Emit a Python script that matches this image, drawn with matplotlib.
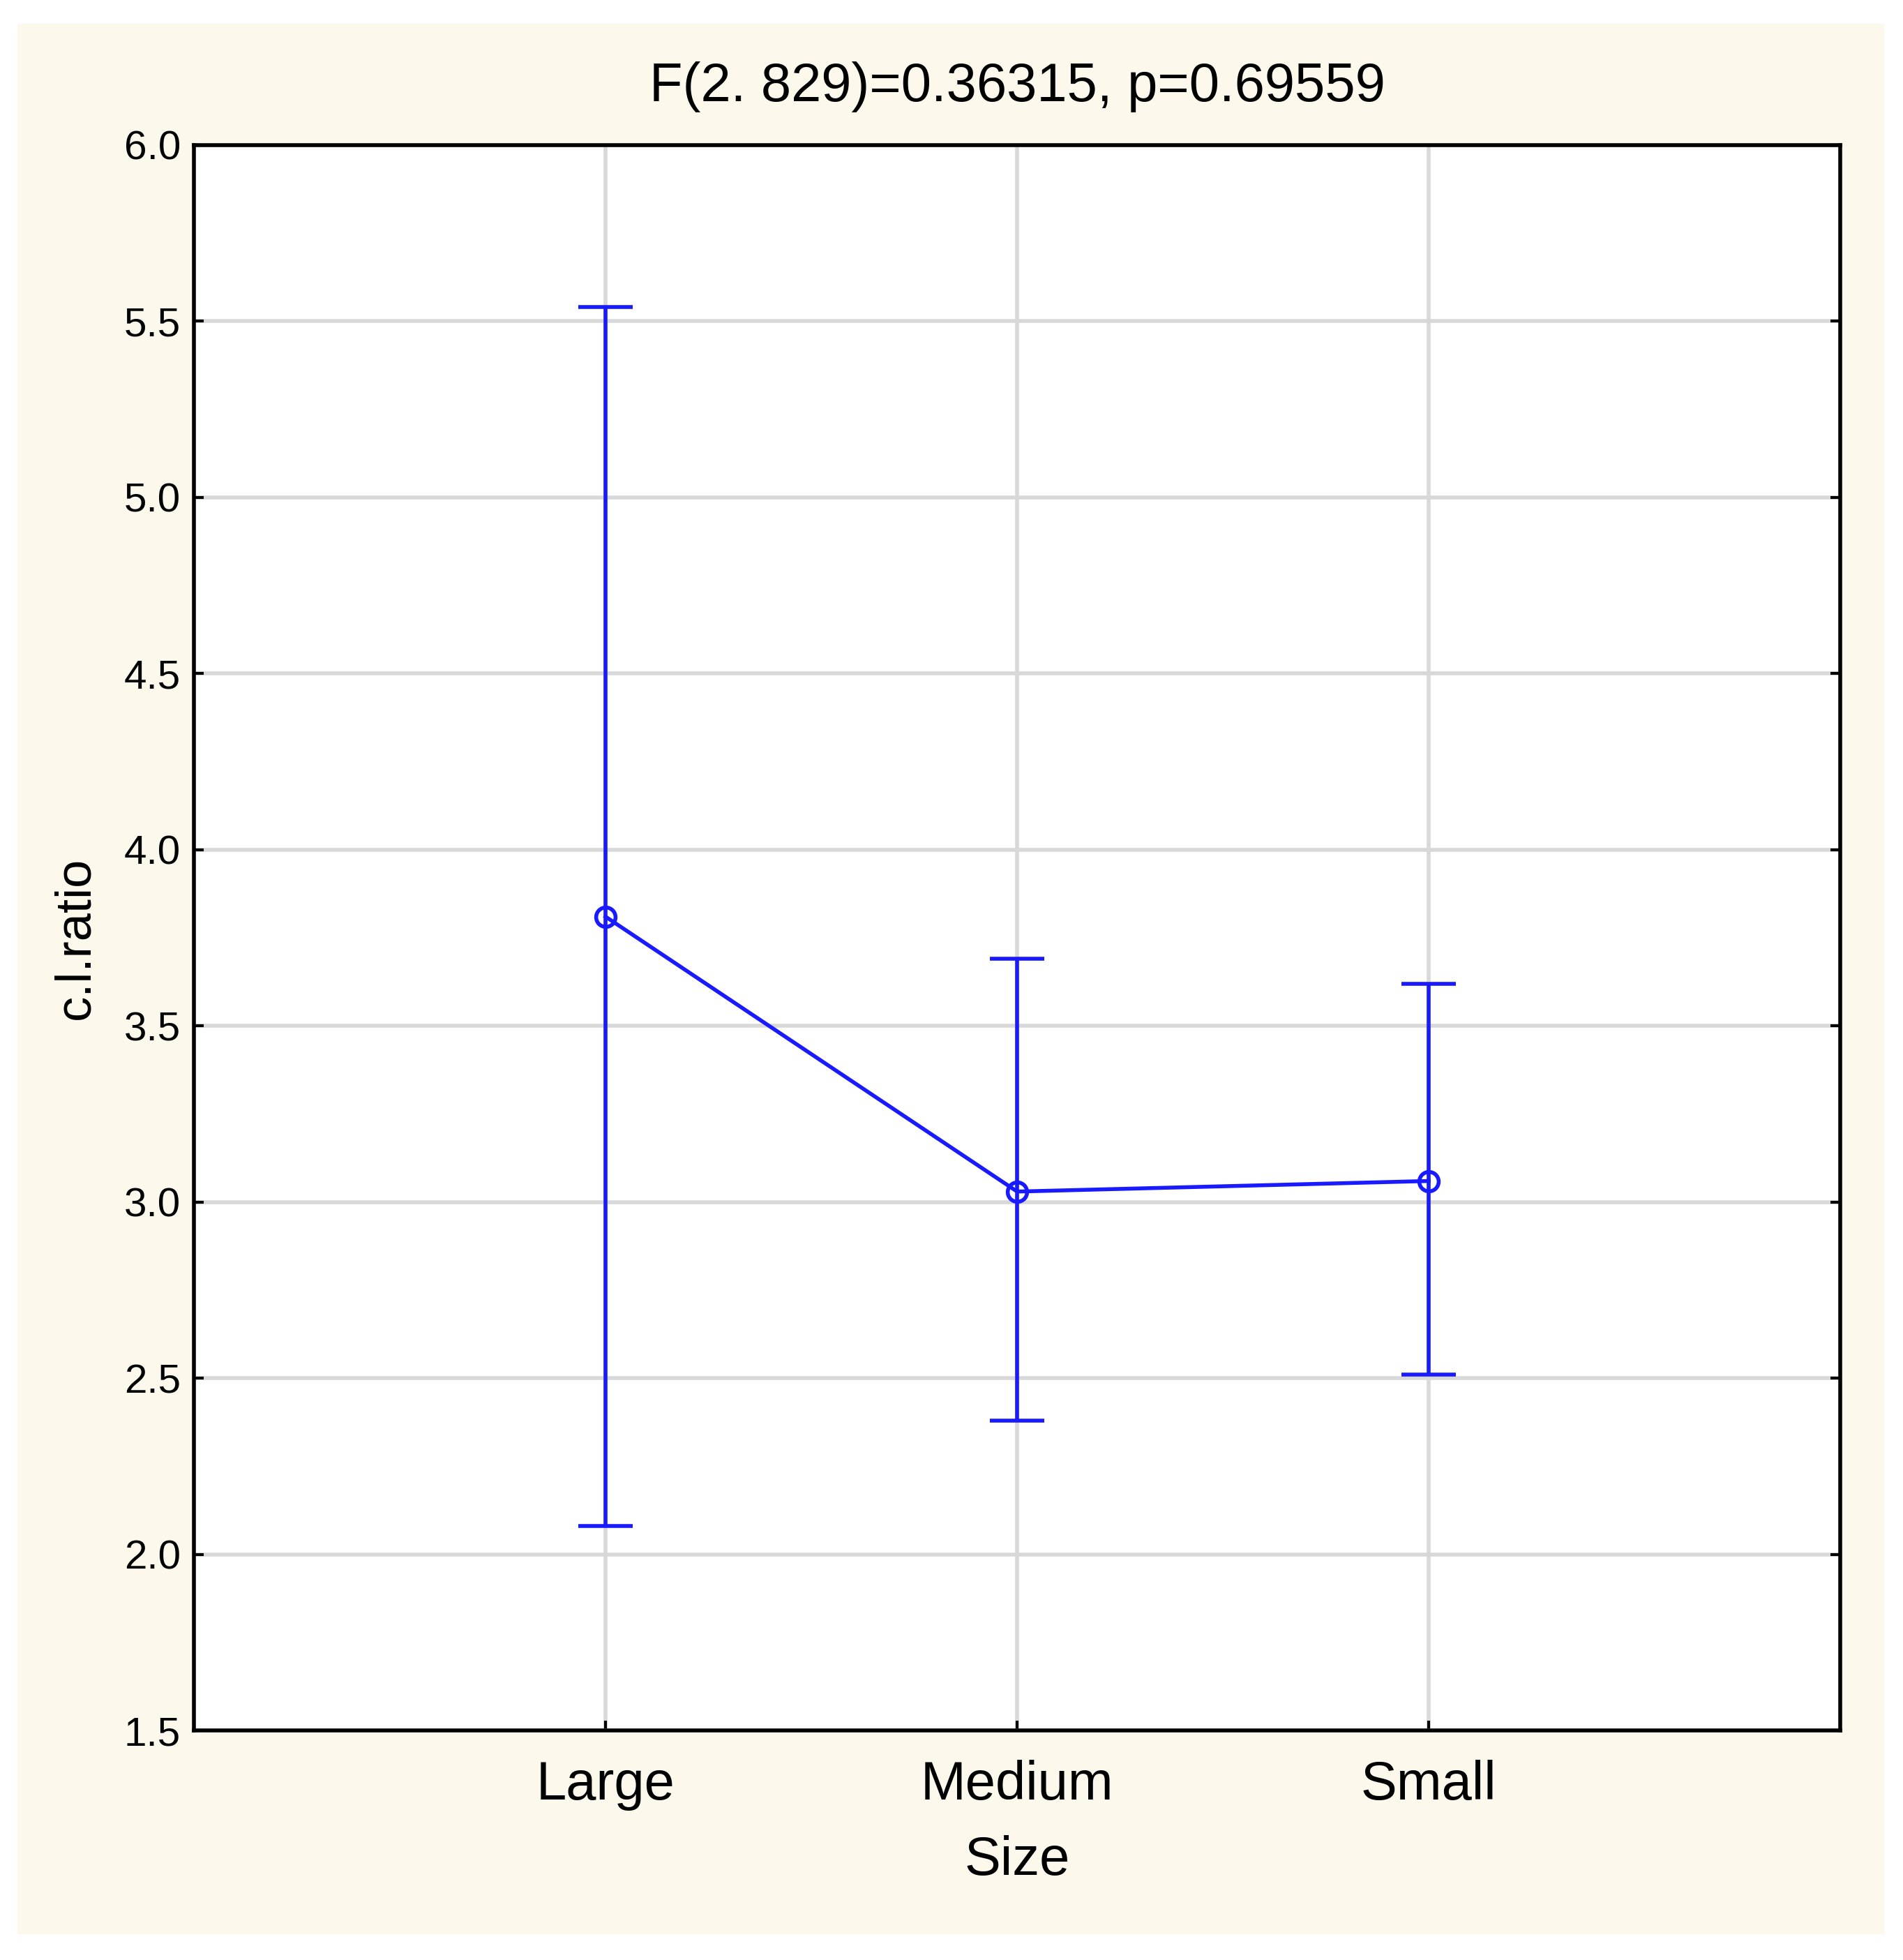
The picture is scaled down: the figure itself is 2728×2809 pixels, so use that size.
import matplotlib
matplotlib.use("Agg")
import matplotlib.pyplot as plt
from matplotlib.patches import Rectangle

categories = ["Large", "Medium", "Small"]
means = [3.81, 3.03, 3.06]
lower = [2.08, 2.38, 2.51]
upper = [5.54, 3.69, 3.62]
yticks = [1.5, 2.0, 2.5, 3.0, 3.5, 4.0, 4.5, 5.0, 5.5, 6.0]

plt.rcParams['font.family'] = ['Liberation Sans', 'DejaVu Sans']
fig = plt.figure(figsize=(27.28, 28.09), dpi=100)
fig.patch.set_facecolor('white')
fig.patches.append(Rectangle((0.009, 0.013), 0.981, 0.975, transform=fig.transFigure,
                             facecolor='#fdf8ec', edgecolor='none', zorder=-1))
ax = fig.add_axes([0.102, 0.117, 0.865, 0.809])
ax.set_facecolor('white')
x = list(range(len(categories)))
yerr = [[m - l for m, l in zip(means, lower)], [u - m for u, m in zip(upper, means)]]
ax.errorbar(x, means, yerr=yerr, color='#1a1aff', lw=4, capsize=28, capthick=4,
            marker='o', markersize=20, mfc='none', mew=4, zorder=3)
ax.set_xlim(-1, 3)
ax.set_ylim(1.5, 6.0)
ax.set_xticks(x)
ax.set_xticklabels(categories, fontsize=56)
ax.set_yticks(yticks)
ax.set_yticklabels([f"{v:.1f}" for v in yticks], fontsize=42)
ax.grid(True, color='#d8d8d8', lw=4)
ax.set_axisbelow(True)
ax.tick_params(direction='in', length=10, width=3, right=True, top=False, pad=14)
ax.tick_params(axis='x', pad=30)
for s in ax.spines.values():
    s.set_linewidth(4)
ax.set_xlabel("Size", fontsize=56, labelpad=25)
ax.set_ylabel("c.l.ratio", fontsize=52, labelpad=25)
ax.set_title("F(2. 829)=0.36315, p=0.69559", fontsize=56, pad=45)
fig.savefig("out.png", dpi=100)
